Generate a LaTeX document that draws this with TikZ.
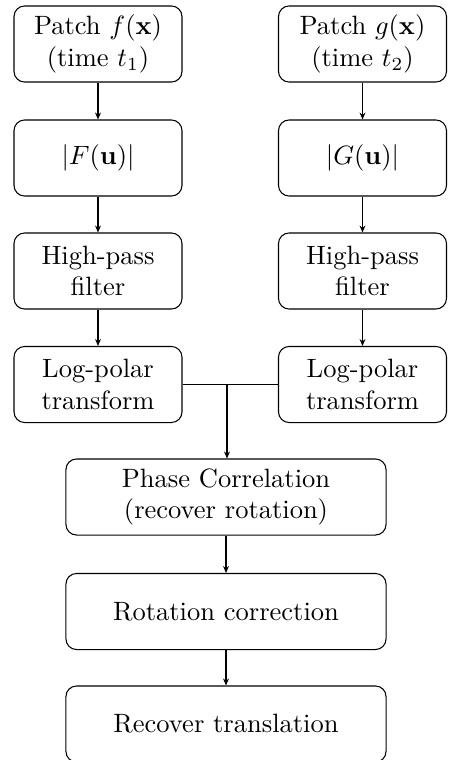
\documentclass[tikz,border=0pt]{standalone}
\usepackage{amsmath}
\usetikzlibrary{arrows.meta}
\begin{document}
\begin{tikzpicture}[x=0.3774pt,y=-0.3774pt,
  box/.style={draw,rounded corners=4pt,align=center,inner sep=0pt,line width=0.4pt},
  small/.style={box,minimum width=63.4pt,minimum height=28.7pt},
  wide/.style={box,minimum width=120.8pt,minimum height=28.7pt},
  arr/.style={-{Stealth[length=2.6pt,width=2.2pt]},line width=0.4pt}]
\useasboundingbox (0,0) rectangle (449,760);
\node[small] (f1) at (98,44) {Patch $f(\mathbf{x})$\\(time $t_1$)};
\node[small] (f2) at (98,158) {$|F(\mathbf{u})|$};
\node[small] (f3) at (98,271) {High-pass\\filter};
\node[small] (f4) at (98,384.5) {Log-polar\\transform};
\node[small] (g1) at (362.5,44) {Patch $g(\mathbf{x})$\\(time $t_2$)};
\node[small] (g2) at (362.5,158) {$|G(\mathbf{u})|$};
\node[small] (g3) at (362.5,271) {High-pass\\filter};
\node[small] (g4) at (362.5,384.5) {Log-polar\\transform};
\node[wide] (p) at (226,497) {Phase Correlation\\(recover rotation)};
\node[wide] (r) at (226,611.5) {Rotation correction};
\node[wide] (t) at (226,724) {Recover translation};
\coordinate (j) at (227,384.5);
\draw[arr] (f1) -- (f2);
\draw[arr] (f2) -- (f3);
\draw[arr] (f3) -- (f4);
\draw[arr] (g1) -- (g2);
\draw[arr] (g2) -- (g3);
\draw[arr] (g3) -- (g4);
\draw (f4.east) -- (g4.west);
\draw[arr] (j) -- (j |- p.north);
\draw[arr] (p) -- (r);
\draw[arr] (r) -- (t);
\end{tikzpicture}
\end{document}
